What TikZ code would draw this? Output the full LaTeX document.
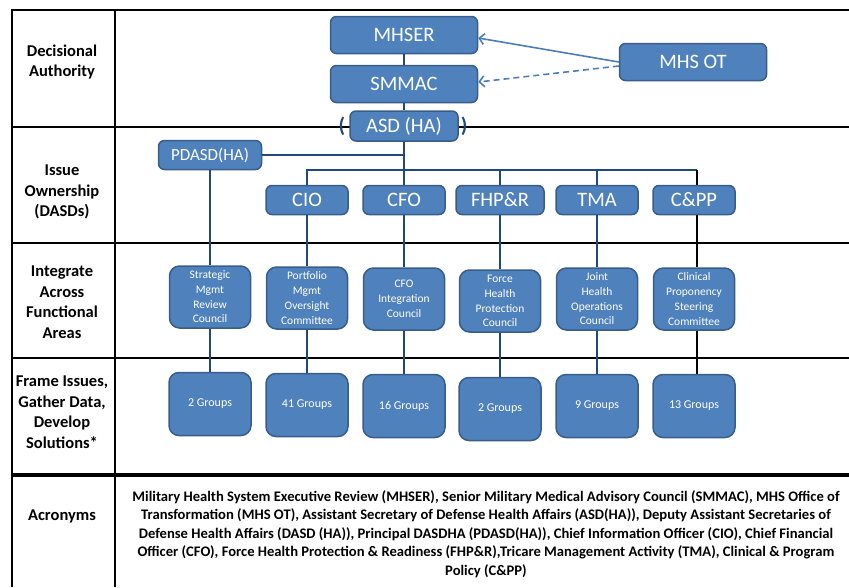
\documentclass[tikz,border=0pt]{standalone}
\usepackage{fontspec}
\setmainfont{Carlito}
\definecolor{boxblue}{RGB}{79,129,189}
\definecolor{boxedge}{RGB}{56,93,138}
\definecolor{linknavy}{RGB}{31,73,125}
\definecolor{arrowblue}{RGB}{74,126,187}
\usetikzlibrary{arrows.meta,positioning,calc}

\begin{document}
\begin{tikzpicture}[x=1pt,y=-1pt,
    orgbox/.style={draw=boxedge,line width=1.5pt,fill=boxblue,rounded corners=6pt,
        text=white,inner sep=0pt,align=center},
    bigbox/.style={orgbox,font=\fontsize{20.5}{22}\selectfont,minimum width=147pt,minimum height=37pt},
    dasdbox/.style={orgbox,font=\fontsize{20.5}{22}\selectfont,minimum width=82pt,minimum height=29pt},
    councilbox/.style={orgbox,rounded corners=10pt,font=\fontsize{11.5}{14.7}\selectfont,
        minimum width=81pt,minimum height=62pt},
    groupbox/.style={orgbox,rounded corners=10pt,font=\fontsize{12}{14}\selectfont,
        minimum width=82pt,minimum height=63pt},
    rowlabel/.style={font=\bfseries\fontsize{16.5}{20.5}\selectfont,align=center},
    paren/.style={text=linknavy,inner sep=0pt,font=\bfseries\fontsize{21}{22}\selectfont},
    grid/.style={line width=2.5pt},
    link/.style={draw=linknavy,line width=2pt},
    blacklink/.style={draw=black,line width=2pt},
    arrowlink/.style={draw=arrowblue,line width=1.6pt,-{Straight Barb[length=5pt,width=11pt]}}]

    \useasboundingbox (0,0) rectangle (849,587);

    % Table
    \draw[grid] (849,10) -- (12,10) -- (12,587);
    \draw[grid] (115,10) -- (115,587);
    \draw[grid] (12,127) -- (849,127);
    \draw[grid] (12,243) -- (849,243);
    \draw[grid] (12,358) -- (849,358);
    \draw[line width=3.5pt] (12,475) -- (849,475);

    % Row labels
    \node[rowlabel] (lblauth) at (62,62) {Decisional\\Authority};
    \node[rowlabel] (lblown) at (62,192) {Issue\\Ownership\\(DASDs)};
    \node[rowlabel] (lblint) at (62,302) {Integrate\\Across\\Functional\\Areas};
    \node[rowlabel] (lblframe) at (62,412) {Frame Issues,\\Gather Data,\\Develop\\Solutions*};
    \node[rowlabel] (lblacr) at (62,516) {Acronyms};

    % Decisional authority
    \node[bigbox] (mhser) at (404,35) {MHSER};
    \node[bigbox] (smmac) at (404,84) {SMMAC};
    \node[bigbox,minimum width=108pt,minimum height=30pt] (asd) at (404,126) {ASD (HA)};
    \node[paren,left=4pt of asd] (asdopen) {(};
    \node[paren,right=2pt of asd] (asdclose) {)};
    \node[bigbox] (mhsot) at (693,62) {MHS OT};

    % DASDs
    \node[dasdbox,font=\fontsize{17}{19}\selectfont,minimum width=103pt] (pdasd) at (210,155) {PDASD(HA)};
    \node[dasdbox] (cio) at (307,200) {CIO};
    \node[dasdbox] (cfo) at (404,200) {CFO};
    \node[dasdbox,minimum width=88pt] (fhpr) at (500,200) {FHP\&R};
    \node[dasdbox] (tma) at (597,200) {TMA};
    \node[dasdbox] (cpp) at (694,200) {C\&PP};

    % Councils
    \node[councilbox] (smrc) at (210,297) {Strategic\\Mgmt\\Review\\Council};
    \node[councilbox] (pmoc) at (307,298) {Portfolio\\Mgmt\\Oversight\\Committee};
    \node[councilbox] (cfoic) at (404,299) {CFO\\Integration\\Council};
    \node[councilbox] (fhpc) at (500,301) {Force\\Health\\Protection\\Council};
    \node[councilbox] (jhoc) at (597,299) {Joint\\Health\\Operations\\Council};
    \node[councilbox] (cpsc) at (694,299) {Clinical\\Proponency\\Steering\\Committee};

    % Working groups
    \node[groupbox] (grpsmrc) at (210,404) {2 Groups};
    \node[groupbox] (grppmoc) at (307,405) {41 Groups};
    \node[groupbox] (grpcfoic) at (404,406) {16 Groups};
    \node[groupbox] (grpfhpc) at (500,409) {2 Groups};
    \node[groupbox] (grpjhoc) at (597,406) {9 Groups};
    \node[groupbox] (grpcpsc) at (694,406) {13 Groups};

    % Links
    \coordinate (bus) at (404,170);
    \coordinate (cppbus) at (697,170);
    \draw[link] (mhser) -- (smmac);
    \draw[link] (smmac) -- (asd);
    \draw[link] (asd.south) |- (pdasd.east);
    \draw[link] (asd) -- (cfo);
    \draw[link] (cio.north) |- (bus);
    \draw[link] (bus) -| (fhpr.north);
    \draw[link] (bus) -| (tma.north);
    \draw[link] (bus) -- (cppbus);
    \draw[blacklink] (cppbus) -- (cppbus |- cpp.north);
    \draw[blacklink] (cppbus |- cpp.south) -- (cppbus |- cpsc.north);
    \draw[blacklink] (cppbus |- cpsc.south) -- (cppbus |- grpcpsc.north);
    \draw[link] (pdasd) -- (smrc);
    \draw[link] (cio) -- (pmoc);
    \draw[link] (cfo) -- (cfoic);
    \draw[link] (fhpr) -- (fhpc);
    \draw[link] (tma) -- (jhoc);
    \draw[link] (smrc) -- (grpsmrc);
    \draw[link] (pmoc) -- (grppmoc);
    \draw[link] (cfoic) -- (grpcfoic);
    \draw[link] (fhpc) -- (grpfhpc);
    \draw[link] (jhoc) -- (grpjhoc);

    % MHS OT
    \draw[arrowlink] (mhsot.west) -- ([yshift=-3pt]mhser.east);
    \draw[arrowlink,dash pattern=on 6pt off 4pt] ([yshift=-4pt]mhsot.west) -- ([yshift=2pt]smmac.east);

    % Acronyms
    \node[font=\bfseries\fontsize{14.6}{18.5}\selectfont,align=center] (acrtext) at (486,534)
        {Military Health System Executive Review (MHSER), Senior Military Medical Advisory Council (SMMAC), MHS Office of\\
         Transformation (MHS OT), Assistant Secretary of Defense Health Affairs (ASD(HA)), Deputy Assistant Secretaries of\\
         Defense Health Affairs (DASD (HA)), Principal DASDHA (PDASD(HA)), Chief Information Officer (CIO), Chief Financial\\
         Officer (CFO), Force Health Protection \& Readiness (FHP\&R),Tricare Management Activity (TMA), Clinical \& Program\\
         Policy (C\&PP)};
\end{tikzpicture}
\end{document}
